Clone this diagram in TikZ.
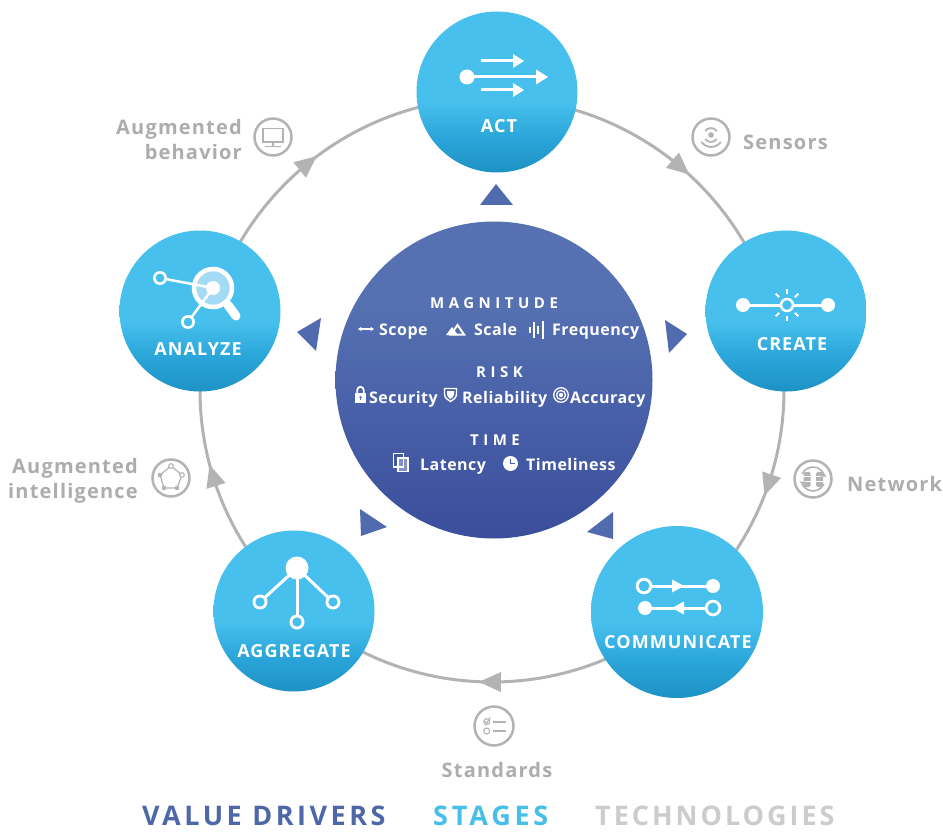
\documentclass[tikz,border=0pt]{standalone}
\usepackage{fontspec}
\setmainfont{Open Sans}
\usetikzlibrary{calc,arrows.meta}
\definecolor{stLight}{HTML}{47C0ED}
\definecolor{stMid}{HTML}{2BA6DA}
\definecolor{stDark}{HTML}{1D92C4}
\definecolor{vdTop}{HTML}{5571B1}
\definecolor{vdMid}{HTML}{4860A8}
\definecolor{vdBot}{HTML}{3A4E9B}
\definecolor{vdTri}{HTML}{516BAF}
\definecolor{ringGray}{HTML}{B3B3B3}
\definecolor{techGray}{HTML}{ADADAD}
\definecolor{legGray}{HTML}{CCCCCC}
\definecolor{legBlue}{HTML}{4D67A9}
\definecolor{legCyan}{HTML}{47BFEB}
\definecolor{magLight}{HTML}{A3DBF4}
\pgfdeclareverticalshading{stageshade}{100bp}{color(0bp)=(stDark); color(25bp)=(stDark); color(36bp)=(stMid); color(47bp)=(stLight); color(100bp)=(stLight)}
\pgfdeclareverticalshading{vdshade}{100bp}{color(0bp)=(vdBot); color(25bp)=(vdBot); color(45bp)=(vdMid); color(62bp)=(vdTop); color(100bp)=(vdTop)}
\begin{document}
\begin{tikzpicture}[x=1pt,y=-1pt,
  stage/.style={circle, draw=none, minimum size=161pt, inner sep=0pt, shading=stageshade},
  stagelbl/.style={text=white, inner sep=0pt, anchor=base, font=\bfseries\fontsize{18}{20}\selectfont\addfontfeatures{LetterSpace=6}},
  vdhead/.style={text=white, inner sep=0pt, anchor=base west, font=\bfseries\fontsize{15}{17}\selectfont\addfontfeatures{LetterSpace=30}},
  vditem/.style={text=white, inner sep=0pt, anchor=base west, font=\bfseries\fontsize{16}{18}\selectfont\addfontfeatures{LetterSpace=3}},
  tech/.style={text=techGray, inner sep=0pt, font=\bfseries\fontsize{20}{24}\selectfont\addfontfeatures{LetterSpace=6}},
  techicon/.style={circle, draw=ringGray, line width=2.5pt, minimum size=37pt, inner sep=0pt},
  legend/.style={inner sep=0pt, anchor=base west},
  icon/.style={white, line width=3pt},
  vdtri/.style={fill=vdTri, draw=none},
  ringarrow/.style={fill=ringGray, draw=none}]
\useasboundingbox (0,0) rectangle (943,832);
\fill[white] (0,0) rectangle (943,832);

% ring
\coordinate (ringc) at (492,390);
\draw[ringGray, line width=3pt] (ringc) circle[radius=292];

% stages
\node[stage] (act) at (497,92) {};
\node[stage] (create) at (786,311) {};
\node[stage, minimum size=172pt] (comm) at (677,612) {};
\node[stage] (aggr) at (294,611) {};
\node[stage] (analyze) at (200,311) {};

% ring arrowheads (clockwise)
\foreach \a in {49.7,-19,-90.4,197,129}{
  \fill[ringarrow, shift={({492+292*cos(\a)},{390-292*sin(\a)})}, rotate=\a-90]
    (11,0) -- (-11,-10) -- (-11,10) -- cycle;
}

% centre circle
\node[circle, draw=none, minimum size=317pt, inner sep=0pt, shading=vdshade] (drivers) at (494,380) {};

% value-driver triangles
\fill[vdtri] (480,205) -- (513,205) -- (496,184) -- cycle;
\fill[vdtri] (665,320) -- (669,353) -- (687,334) -- cycle;
\fill[vdtri] (321,318) -- (316,351) -- (297,332) -- cycle;
\fill[vdtri] (360,509) -- (361,536) -- (387,527) -- cycle;
\fill[vdtri] (613,512) -- (613,539) -- (587,532) -- cycle;

% stage labels
\node[stagelbl] (actl) at (499,132.5) {ACT};
\node[stagelbl] (createl) at (792,350) {CREATE};
\node[stagelbl] (comml) at (678,648) {COMMUNICATE};
\node[stagelbl] (aggrl) at (294,657) {AGGREGATE};
\node[stagelbl] (analyzel) at (198,355) {ANALYZE};

% ACT icon
\fill[white] (467,77) circle (7.5);
\draw[icon] (467,77) -- (539,77);
\fill[white] (536,69.5) -- (548,77) -- (536,84.5) -- cycle;
\draw[icon] (481,61) -- (515,61);
\fill[white] (513,54) -- (524,61) -- (513,68) -- cycle;
\draw[icon] (481,90) -- (515,90);
\fill[white] (513,83) -- (524,90) -- (513,97) -- cycle;

% CREATE icon
\draw[icon] (743,305) -- (780,305);
\draw[icon] (794,305) -- (828,305);
\fill[white] (743,305) circle (7);
\fill[white] (828,305) circle (7);
\draw[white, line width=2.5pt] (787,305) circle (6);
\foreach \r in {90,45,135,225,270,315}{
  \draw[white, line width=2pt] ($(787,305)+({cos(\r)*11},{-sin(\r)*11})$) -- ($(787,305)+({cos(\r)*16},{-sin(\r)*16})$);
}

% COMMUNICATE icon
\draw[icon] (652,586) -- (713,586);
\fill[white, even odd rule] (644,586) circle (8.3) (644,586) circle (5.6);
\fill[white] (713,586) circle (7);
\fill[white] (672,579.5) -- (684,586) -- (672,592.5) -- cycle;
\draw[icon] (645,608) -- (705,608);
\fill[white] (645,608) circle (7);
\fill[white, even odd rule] (713,608) circle (8.3) (713,608) circle (5.6);
\fill[white] (684,601.5) -- (672,608) -- (684,614.5) -- cycle;

% AGGREGATE icon
\coordinate (ag0) at (297,568);
\coordinate (ag1) at (260,602);
\coordinate (ag2) at (297,622);
\coordinate (ag3) at (333,602);
\foreach \p in {ag1,ag2,ag3}{
  \draw[icon] (ag0) -- ($(\p)!7pt!(ag0)$);
  \fill[white, even odd rule] (\p) circle (7.5) (\p) circle (4.8);
}
\fill[white] (ag0) circle (11.5);

% ANALYZE icon
\coordinate (mg) at (213,288);
\coordinate (an1) at (160,278);
\coordinate (an2) at (188,322);
\fill[magLight] (mg) circle (19);
\draw[white, line width=4.5pt] (mg) circle (19);
\draw[white, line width=9pt, line cap=round] (228,305) -- (236,316);
\draw[white, line width=2.5pt] (mg) -- ($(an1)!7pt!(mg)$);
\draw[white, line width=2.5pt] (mg) -- ($(an2)!7pt!(mg)$);
\fill[white, even odd rule] (an1) circle (7) (an1) circle (4.5);
\fill[white, even odd rule] (an2) circle (7) (an2) circle (4.5);
\fill[white] (mg) circle (7);

% centre texts
\node[vdhead] (mag) at (430,308.5) {MAGNITUDE};
\node[vdhead] (risk) at (476,377.5) {RISK};
\node[vdhead] (time) at (470,445) {TIME};

\node[vditem] (scope) at (379,335) {Scope};
\node[vditem] (scale) at (474,335) {Scale};
\node[vditem] (freq) at (552,335) {Frequency};
\node[vditem] (secu) at (369,403) {Security};
\node[vditem] (reli) at (462,403) {Reliability};
\node[vditem] (accu) at (570,403) {Accuracy};
\node[vditem] (late) at (420,470) {Latency};
\node[vditem] (timel) at (526,470) {Timeliness};

% centre icons
\draw[white, line width=1.3pt, {Stealth[length=3.5pt,width=4.5pt]}-{Stealth[length=3.5pt,width=4.5pt]}] (358,329) -- (374,329);
\fill[white] (446,335) -- (452,327) -- (458,335) -- cycle;
\draw[white, line width=2pt, line join=miter] (451,334.5) -- (457.5,325) -- (464,334.5) -- cycle;
\draw[white, line width=1.6pt] (530,327) -- (530,333);
\draw[white, line width=1.6pt] (534,322) -- (534,338);
\draw[white, line width=1.6pt] (538,326) -- (538,334);
\draw[white, line width=1.6pt] (543,321) -- (543,339);
% lock
\fill[white] (355,393) rectangle (366,403);
\draw[white, line width=1.8pt] (357.3,393.5) -- (357.3,390) arc[start angle=180, end angle=360, radius=3.2] -- (363.7,393.5);
\fill[vdTop] (360.5,397.2) circle (1.3);
\fill[vdTop] (359.9,397.2) rectangle (361.1,400.3);
% shield
\draw[white, line width=1.4pt] (444.5,388.5) -- (456.5,388.5) -- (456.5,394) .. controls (456.5,398) and (453,400) .. (450.5,401.5) .. controls (448,400) and (444.5,398) .. (444.5,394) -- cycle;
\fill[white] (447,391) -- (454,391) -- (454,394.5) .. controls (454,396.5) and (452,398) .. (450.5,399) .. controls (449,398) and (447,396.5) .. (447,394.5) -- cycle;
% target
\draw[white, line width=1.3pt] (561,395) circle (7.3);
\draw[white, line width=1.3pt] (561,395) circle (4.5);
\fill[white] (561,395) circle (2.2);
% latency
\fill[white, opacity=0.35] (398,458) rectangle (408,471.5);
\draw[white, line width=1.2pt] (393.5,453.5) rectangle (403.5,467);
\draw[white, line width=1.2pt] (398,458) rectangle (408,471.5);
% clock
\fill[white] (510.5,463.5) circle (7.5);
\draw[vdMid, line width=1.5pt] (510.5,458.5) -- (510.5,463.5) -- (515,463.5);

% technology icons and labels
\node[techicon] (behIcon) at (273,137) {};
\draw[ringGray, line width=1.8pt] (263,128.5) rectangle (283,142);
\draw[ringGray, line width=1.8pt] (273,142) -- (273,146);
\draw[ringGray, line width=1.8pt] (265,146.5) -- (281,146.5);
\node[tech, anchor=base east] (beh1) at (242,135) {Augmented};
\node[tech, anchor=base east] (beh2) at (242,160) {behavior};

\node[techicon] (senIcon) at (711,137) {};
\fill[ringGray] (711,135) circle (2.8);
\draw[ringGray, line width=1.8pt] (711,135) ++(-35:7) arc[start angle=-35, end angle=-145, radius=7];
\draw[ringGray, line width=1.8pt] (711,135) ++(35:7) arc[start angle=35, end angle=145, radius=7];
\draw[ringGray, line width=1.8pt] (711,135) ++(35:12) arc[start angle=35, end angle=145, radius=12];
\node[tech, anchor=base west] (sen) at (743,150) {Sensors};

\node[techicon] (netIcon) at (813,479) {};
\foreach \cx in {807,819.5}{
  \fill[ringGray, rounded corners=1.5pt] (\cx-3.5,472) rectangle (\cx+3.5,487);
  \draw[white, line width=0.8pt] (\cx-3.5,476.5) -- (\cx+3.5,476.5);
  \draw[white, line width=0.8pt] (\cx-3.5,481.5) -- (\cx+3.5,481.5);
}
\draw[ringGray, line width=1.6pt] (813,479) ++(-25:12) arc[start angle=-25, end angle=-155, radius=12];
\draw[ringGray, line width=1.6pt] (813,479) ++(25:12) arc[start angle=25, end angle=155, radius=12];
\fill[ringGray] (823.5,473) -- (826.5,476.5) -- (820.5,476.5) -- cycle;
\fill[ringGray] (802.5,485) -- (805.5,481.5) -- (799.5,481.5) -- cycle;
\node[tech, anchor=base west] (net) at (847,491) {Network};

\node[techicon, minimum height=39pt] (stdIcon) at (494,726) {};
\draw[ringGray, line width=1.1pt] (486.7,721.7) circle (3);
\draw[ringGray, line width=1.1pt] (484.8,721.3) -- (486.6,723.2) -- (490.2,717.4);
\draw[ringGray, line width=1.1pt] (486.7,731) circle (3);
\draw[ringGray, line width=1.8pt] (492.5,721.7) -- (505.5,721.7);
\draw[ringGray, line width=1.8pt] (492.5,731) -- (505.5,731);
\node[tech, anchor=base] (std) at (497,777) {Standards};

\node[techicon] (intIcon) at (171,478) {};
\draw[ringGray, line width=1.2pt] (171,466) -- (182,475) -- (177,488) -- (164,488) -- (160,475) -- cycle;
\fill[ringGray] (177,488) circle (2.3);
\fill[ringGray] (164,488) circle (2.3);
\fill[ringGray] (160,475) circle (2.3);
\filldraw[fill=white, draw=ringGray, line width=1.1pt] (171,466) circle (2.3);
\filldraw[fill=white, draw=ringGray, line width=1.1pt] (182,475) circle (2.3);
\node[tech, anchor=base east] (int1) at (138,473) {Augmented};
\node[tech, anchor=base east] (int2) at (138,498) {intelligence};

% legend
\node[legend, text=legBlue, font=\bfseries\fontsize{27}{29}\selectfont\addfontfeatures{LetterSpace=13}] (lvd) at (142,825) {VALUE DRIVERS};
\node[legend, text=legCyan, font=\bfseries\fontsize{27}{29}\selectfont\addfontfeatures{LetterSpace=14}] (lst) at (433,825) {STAGES};
\node[legend, text=legGray, font=\bfseries\fontsize{27}{29}\selectfont\addfontfeatures{LetterSpace=11}] (lte) at (595,825) {TECHNOLOGIES};
\end{tikzpicture}
\end{document}
